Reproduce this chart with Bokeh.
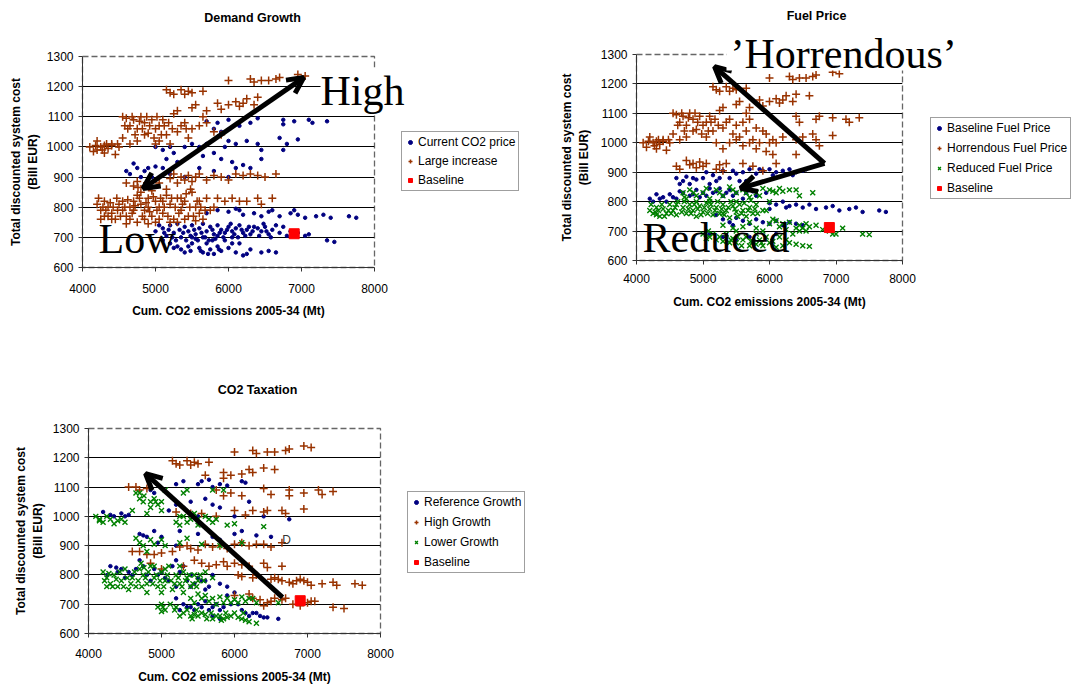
from bokeh.plotting import figure
from bokeh.models import (Range1d, FixedTicker, Legend, LegendItem, Label, Arrow, OpenHead, Spacer,
                          BoxAnnotation)
from bokeh.layouts import column, row
from bokeh.embed import file_html
from bokeh.resources import INLINE

# ---------------- data ----------------
x_ticks = [4000, 5000, 6000, 7000, 8000]
y_ticks = [600, 700, 800, 900, 1000, 1100, 1200, 1300]
baseline_pt = [(6900, 712)]

# Panel 1: Demand Growth
dg_current = [
    (5700,1085),(5800,1060),(5850,1080),(5900,1050),(6000,1090),(6150,1070),(6300,1080),(6400,1095),
    (6750,1090),(6900,1085),(7100,1090),(7150,1080),(7350,1085),(6750,1075),
    (5000,1000),(5100,990),(5150,960),(5200,1000),(5250,980),(5300,950),(5400,1000),(5500,1010),
    (5600,1000),(5650,970),(5700,1010),(5800,980),(5900,960),(6000,1020),(6050,950),(6100,1010),
    (6200,940),(6250,1020),(6400,1010),(6450,990),(6700,1030),(6800,1010),(6750,990),(6950,1025),
    (6450,960),(5950,1000),
    (4600,920),(4650,910),(4700,945),(4750,930),(4800,900),(4850,920),(4900,930),(4950,900),
    (5000,935),(5100,930),(5200,910),(5400,900),(5600,930),(5800,920),(6000,900),(6100,930),(6300,930),
    (5700,780),(5850,790),(6000,785),(6150,790),(6200,775),(6350,780),(6450,770),(6550,785),
    (6700,770),(6850,780),(6950,775),(7050,765),(7200,770),(7300,775),(7400,765),(7650,770),
    (7750,765),(6100,795),(6600,790),(6900,790),
    (5000,720),(5100,730),(5200,740),(5250,715),(5300,745),(5400,735),(5450,720),(5500,740),
    (5550,710),(5600,730),(5650,745),(5700,720),(5750,735),(5800,710),(5850,740),(5900,725),
    (5950,715),(6000,735),(6050,720),(6100,730),(6150,740),(6200,715),(6250,725),(6300,710),
    (6400,730),(6450,720),(6500,735),(6550,710),(6600,725),(6700,715),(6800,705),(6850,720),
    (6950,715),(7050,705),(7100,710),(7350,690),(7450,685),(5150,705),(5350,700),(5500,700),
    (5650,700),(5850,705),(6050,700),(6350,735),
    (5100,690),(5200,680),(5300,670),(5350,660),(5450,670),(5500,680),(5600,665),(5650,650),
    (5700,680),(5750,660),(5800,645),(5850,670),(5900,655),(6000,665),(6100,650),(6150,680),
    (6200,640),(6300,660),(6450,650),(6550,655),(6650,650),(5950,690),(5550,695),
    (5050,740),(5120,715),(5180,725),(5230,700),(5280,690),(5330,725),(5380,715),(5420,690),
    (5480,705),(5530,725),(5580,690),(5630,715),(5680,700),(5730,690),(5780,725),(5820,695),
    (5880,715),(5930,700),(5980,725),(6030,745),(6080,710),(6130,700),(6180,725),(6230,705),
    (6280,735),(6330,720),(6420,705),(6480,745),(6520,720),(6580,700),(6650,740),(6750,735),
    (5400,650),(5620,655),(5720,645),(5870,660),(6050,680),(6250,645),(5250,665),(5480,655),(5780,690),
]
dg_large = [
    (5150,1190),(5200,1180),(5250,1175),(5350,1190),(5400,1175),(5450,1185),(5500,1180),(5650,1185),
    (6000,1220),(6300,1225),(6350,1215),(6450,1220),(6550,1220),(6650,1225),(6700,1230),(6950,1240),(7050,1235),
    (5250,1110),(5500,1130),(5550,1140),(5650,1100),(5700,1120),(5850,1145),(5900,1125),(6000,1140),
    (6100,1150),(6150,1135),(6200,1145),(6250,1160),(6350,1140),(6400,1165),(5300,1120),
    (4100,1000),(4150,985),(4200,1020),(4250,1000),(4300,980),(4350,995),(4400,1005),(4450,975),
    (4500,1000),(4550,1100),(4600,1095),(4650,1070),(4700,1090),(4750,1060),(4800,1100),(4850,1080),
    (4900,1045),(4950,1090),(5000,1060),(5050,1070),(5100,1090),(5150,1040),(5200,1010),(5300,1050),
    (5400,1080),(5450,1030),(4650,1010),(4750,1020),(4850,1040),(5000,1010),(5050,1020),(4550,1030),
    (4300,1005),(4200,990),(5600,1070),(5700,1080),(5800,1050),(5900,1040),(5500,1060),(4400,1010),
    (4180,1005),(4270,990),(4330,1010),(4480,1010),(4620,1060),(4680,1100),(4720,1040),(4780,1085),
    (4880,1100),(4920,1070),(4980,1030),(5080,1040),(5120,1070),(5180,1080),(5230,1060),(5350,1070),
    (4580,1070),(4820,1060),(5020,1100),(5420,1060),
    (4600,880),(4700,870),(4750,885),(5200,895),(5300,880),(5350,900),(5400,890),(5450,905),
    (5500,885),(5550,900),(5600,910),(5700,890),(5800,905),(5900,900),(6000,890),(6100,910),
    (6200,905),(6300,910),(6400,905),(6500,900),(6650,910),(5250,910),(5050,880),
    (4200,810),(4250,790),(4300,820),(4350,800),(4400,780),(4450,760),(4500,810),(4550,790),
    (4600,770),(4650,800),(4700,820),(4750,840),(4800,810),(4850,790),(4900,830),(4950,770),
    (5000,820),(5050,800),(5100,780),(5150,840),(5200,810),(5250,760),(5300,830),(5350,790),
    (5400,820),(5450,770),(5500,850),(5550,800),(5600,780),(5650,760),(5700,830),(5800,800),
    (5850,830),(5950,820),(6050,830),(6150,820),(6250,820),(6400,830),(6450,810),(6600,830),
    (4250,760),(4400,760),(4650,760),(4750,750),(4850,760),(5050,760),(5200,750),(4700,790),
    (4900,800),(4800,850),(5100,820),(5350,830),(5600,820),(5750,790),(4300,770),(4550,820),
    (5000,750),(5400,760),
    (4220,830),(4280,800),(4320,790),(4380,815),(4420,800),(4470,830),(4520,770),(4580,800),
    (4620,825),(4680,780),(4720,805),(4780,830),(4820,770),(4870,815),(4920,785),(4970,835),
    (5020,790),(5070,830),(5120,800),(5170,770),(5220,830),(5270,800),(5320,780),(5370,810),
    (5420,845),(5470,800),(5520,770),(5570,820),(5620,800),(5680,790),(4760,865),(4840,870),
    (4950,855),(5150,860),(5480,860),(4350,770),(4480,790),(4600,745),(4900,745),(5300,750),(5550,755),
]

# Panel 2: Fuel Price
fp_base = [
    (4600,880),(4700,870),(4750,885),(4800,860),(4900,875),(5000,880),(5050,900),(5150,890),
    (5200,870),(5300,905),(5400,880),(5500,895),(5600,900),(5700,910),(5800,895),(5900,905),
    (6000,910),(6100,900),(6200,905),(6300,910),(6400,900),(6500,905),(5100,860),(5550,870),
    (4200,810),(4250,800),(4300,825),(4400,815),(4450,800),(4500,825),(4600,810),(4700,830),
    (4800,820),(4900,840),(5000,830),(5100,845),(5200,835),(5300,820),(5400,840),(5500,830),
    (5600,810),(5700,845),(5800,820),(5950,830),
    (4350,810),(4550,815),(4650,835),(4850,825),(4950,815),(5050,820),(5150,830),(5250,845),
    (5350,830),(5450,820),(5650,830),(5750,835),(4650,860),(4850,880),(5250,880),(5450,905),
    (5650,870),(5850,910),(6050,890),(6350,890),(6550,910),
    (6000,795),(6100,790),(6200,800),(6300,785),(6400,790),(6500,780),(6600,790),(6700,775),
    (6850,780),(6950,785),(7050,770),(7200,775),(7300,780),(7400,765),(7650,770),(7750,765),
    (6000,775),(6250,780),
    (5300,740),(5400,730),(5500,745),(5600,735),(5700,725),(5800,740),(5900,730),(6000,725),
    (6100,735),(6200,720),(6300,730),(5200,755),(5450,720),(6400,725),(6500,720),
    (5100,690),(5300,680),(5500,670),(5700,680),(6100,690),
]
fp_horr = [
    (5150,1190),(5200,1180),(5250,1175),(5350,1190),(5400,1175),(5450,1185),(5500,1180),(5650,1185),
    (6000,1220),(6300,1225),(6350,1215),(6450,1220),(6550,1220),(6650,1225),(6700,1230),(6950,1240),(7050,1235),
    (5250,1110),(5500,1130),(5550,1140),(5650,1100),(5700,1120),(5850,1145),(5900,1125),(6000,1140),
    (6100,1150),(6150,1135),(6200,1145),(6250,1160),(6350,1140),(6400,1165),(6600,1160),(5300,1120),
    (4100,1000),(4150,985),(4200,1020),(4250,1000),(4300,980),(4350,995),(4400,1005),(4450,975),
    (4500,1000),(4550,1100),(4600,1095),(4650,1070),(4700,1090),(4750,1060),(4800,1100),(4850,1080),
    (4900,1045),(4950,1090),(5000,1060),(5050,1070),(5100,1090),(5150,1040),(5300,1050),(5400,1080),
    (5450,1030),(4650,1010),(4750,1020),(4850,1040),(5050,1020),(4550,1030),(4300,1005),(4400,1010),
    (4180,1005),(4270,990),(4330,1010),(4480,1010),(4620,1060),(4680,1100),(4720,1040),(4780,1085),
    (4880,1100),(4920,1070),(4980,1030),(5080,1040),(5120,1070),(5180,1080),(5230,1060),(5350,1070),
    (5550,1020),(5650,1040),(5750,1010),(5850,1000),(5950,1030),(6050,1010),
    (6400,1090),(6450,1070),(6700,1080),(6750,1090),(6950,1085),(7150,1080),(7200,1070),(7350,1085),
    (6950,1025),(6650,1030),(6700,1010),(6750,990),(6400,1010),(6500,1020),(6200,1020),(6100,1000),
    (6000,1000),(6050,960),(5950,970),(6400,960),(5800,980),(5700,1000),(5600,990),(5500,1010),
    (5400,1000),(5300,980),(5200,1000),(5600,1070),(5700,1080),(5800,1050),(5900,1040),(5500,1060),
    (4600,920),(4650,910),(4750,940),(4800,925),(4850,930),(4900,915),(4950,935),(5000,920),
    (5050,930),(5200,910),(5250,925),(5300,905),(5350,930),(5600,930),(5750,920),(5900,905),(6100,930),
]
fp_red = [
    (4700,830),(4750,810),(4800,840),(4900,820),(5000,830),(5100,810),(5200,840),(5300,820),
    (5400,850),(5500,830),(5600,840),(5700,815),(5800,830),(5900,845),(6000,840),(6100,830),
    (6200,835),(6400,840),(6450,820),(6650,830),(6000,800),
    (4200,770),(4250,760),(4300,780),(4350,750),(4400,775),(4450,760),(4500,790),(4550,770),
    (4600,755),(4700,780),(4750,760),(4800,790),(4850,770),(4900,750),(4950,785),(5000,765),
    (5050,795),(5100,775),(5150,755),(5200,780),(5250,760),(5300,790),(5350,770),(5400,745),
    (5450,785),(5500,765),(5550,790),(5600,770),(5650,750),(5700,780),(5750,760),(5800,790),
    (5900,770),(5950,770),(4300,755),(4600,790),(4900,800),(5100,800),(5300,760),(5500,800),
    (4220,790),(4280,765),(4330,770),(4380,790),(4420,750),(4480,770),(4520,760),(4580,780),
    (4620,800),(4680,765),(4720,800),(4780,775),(4820,760),(4870,790),(4920,775),(4970,755),
    (5020,780),(5070,760),(5120,790),(5180,770),(5220,800),(5280,775),(5320,755),(5380,780),
    (5420,800),(5480,775),(5520,750),(5580,760),(5620,795),(5680,770),(5720,805),(5780,775),
    (5820,760),(4720,815),(4860,830),(5050,845),(5250,830),(5450,840),(5650,830),(5850,820),
    (6050,835),(6150,845),(6300,840),
    (5300,720),(5450,710),(5500,700),(5600,715),(5700,730),(5800,710),(5900,700),(6000,725),
    (6100,735),(6150,715),(6200,725),(6250,705),(6300,730),(6400,710),(6450,720),(6500,710),
    (6550,725),(6600,715),(6700,720),(6800,705),(6900,700),(6950,690),(7000,690),(7100,710),
    (7400,690),(7500,688),(6050,740),
    (5000,690),(5050,675),(5100,680),(5200,670),(5300,665),(5400,660),(5450,675),(5500,660),
    (5600,670),(5700,650),(5750,665),(5800,655),(5850,670),(5900,650),(6000,660),(6100,645),
    (6200,650),(6300,660),(6400,655),(6500,650),(6600,648),
    (5080,700),(5150,690),(5250,680),(5350,690),(5420,670),(5520,680),(5580,650),(5650,680),
    (5720,665),(5800,690),(5880,660),(5950,680),(6050,665),(6150,680),(6250,670),(6350,690),
    (6450,700),(6550,700),
]

# Panel 3: CO2 Taxation
ct_ref = [
    (5200,1110),(5300,1120),(5500,1110),(5550,1120),(5650,1125),(5700,1100),(5800,1110),(5900,1105),
    (6100,1120),(6150,1115),(4850,1090),(4900,1080),
    (4200,1015),(4300,1005),(4350,1000),(4450,1010),(4500,1000),(4550,1005),(5200,1040),(5300,1030),
    (5400,1050),(5500,1000),(5600,1060),(5700,1040),(5800,1030),(6000,1000),(6200,1050),(6400,1000),
    (6750,990),(5100,1020),
    (4700,940),(4750,935),(4800,930),(4900,950),(5000,930),(5250,950),(5500,940),(5700,930),
    (5800,920),(6000,940),(6100,950),(6300,935),(6500,930),(4950,910),(5200,900),
    (4300,830),(4400,810),(4450,820),(4700,850),(4750,830),(4800,800),(4900,820),(5000,810),
    (5200,850),(5300,830),(5400,800),(5500,790),(5600,780),(5700,800),(5800,770),(5900,760),
    (5100,780),(5200,760),(5400,760),(5600,750),(4600,800),(4500,790),
    (4260,800),(4380,825),(4550,810),(4650,820),(4850,780),(4950,800),(5050,790),(5150,830),
    (5250,810),(5350,780),(5450,770),(5550,780),(5650,760),
    (5200,720),(5300,700),(5400,690),(5500,700),(5600,710),(5700,690),(5800,680),(5900,730),
    (6000,740),(6050,700),(6100,680),(6150,670),(6200,660),(6300,670),(6400,655),(6450,655),
    (6600,650),(5800,650),(5700,660),
    (5250,680),(5350,690),(5450,680),(5550,690),(5650,680),(5750,700),(5850,690),(5950,700),
    (6250,670),(6350,660),
]
ct_high = [
    (5150,1190),(5200,1180),(5250,1175),(5350,1190),(5400,1175),(5450,1185),(5500,1180),(5650,1185),
    (6000,1220),(6250,1225),(6300,1215),(6450,1220),(6550,1220),(6700,1225),(6750,1230),(6950,1240),(7050,1235),
    (5600,1140),(5850,1150),(5950,1140),(6100,1145),(6200,1160),(6250,1150),(6400,1165),(6550,1160),(5850,1130),
    (4550,1100),(4650,1100),(4700,1090),(4800,1095),(5750,1090),(5850,1070),(5950,1080),(6100,1070),
    (6400,1095),(6500,1075),(6750,1090),(6950,1080),(7150,1090),(7200,1075),(7350,1085),(6750,1070),
    (5200,1015),(5400,1010),(5550,1010),(5750,1000),(6000,1020),(6150,1005),(6250,1020),(6400,1015),
    (6450,1020),(6650,1020),(6700,1010),(6950,1025),
    (4600,880),(4700,880),(4800,870),(4900,870),(5000,875),(5150,880),(5250,895),(5350,900),
    (5400,890),(5500,885),(5600,905),(5700,895),(5800,900),(5900,890),(6000,905),(6100,910),
    (6200,900),(6300,905),(6400,905),(6500,895),(6650,910),
    (4850,840),(5000,820),(5300,830),(5450,850),(5550,840),(5650,830),(5750,835),(5850,845),
    (5900,830),(6000,840),(6100,835),(6200,830),(6400,840),(6450,825),(6650,830),(6050,800),
    (6300,800),(6500,785),(6550,790),(6600,785),(6650,780),(6750,775),(6800,770),(6850,780),
    (6900,785),(6950,780),(7000,775),(7050,765),(7200,770),(7350,775),(7400,765),(7650,770),
    (7750,765),(6100,795),(6250,790),
    (6000,730),(6200,735),(6350,715),(6400,695),(6500,710),(6550,720),(6650,715),(6700,720),
    (6800,700),(6900,695),(7000,705),(7050,710),(7100,710),(7350,690),(7500,685),(6250,720),(6450,705),
]
ct_low = [
    (4650,1080),(4700,1060),(4750,1050),(4900,1060),(4950,1040),(5050,1090),(5350,1090),(5300,1080),
    (5700,1090),(5850,1090),(4600,1020),(4800,1010),(5000,1020),(4850,1030),
    (4700,1080),(4760,1070),(4850,1050),(4920,1050),(5000,1050),
    (4100,1000),(4150,990),(4200,980),(4250,1000),(4300,990),(4350,975),(4450,990),(4500,980),
    (5200,980),(5250,970),(5300,1000),(5400,990),(5500,970),(5600,1000),(5700,980),(5900,970),
    (6000,975),(6400,965),(5450,1010),(5750,990),(5250,1000),(5350,980),(5500,990),(5650,990),
    (4150,985),(4400,985),
    (4650,925),(4700,910),(4750,900),(4850,920),(4900,905),(5000,920),(5050,900),(5250,910),
    (5350,925),(5550,905),(5800,900),(6100,910),(4800,880),
    (4200,810),(4250,790),(4300,770),(4350,800),(4400,760),(4450,780),(4500,820),(4550,750),
    (4600,790),(4700,820),(4750,800),(4800,770),(4850,830),(4900,790),(4950,760),(5000,810),
    (5050,780),(5100,830),(5150,750),(5200,800),(5250,770),(5300,810),(5350,790),(5400,760),
    (5450,800),(5500,780),(5600,810),(5700,790),(4250,760),(4650,760),(4800,740),(5000,740),(5300,740),
    (4220,780),(4280,805),(4330,760),(4380,785),(4430,810),(4480,760),(4530,790),(4580,770),
    (4630,810),(4680,780),(4730,760),(4780,790),(4820,810),(4880,770),(4930,800),(4980,780),
    (5030,760),(5080,800),(5130,780),(5180,770),(5230,790),(5280,760),(5330,780),(5380,800),
    (5430,770),(5480,760),(5530,800),(5580,780),(4720,840),(4760,825),(4900,830),(5050,820),(5250,830),
    (5000,700),(5400,720),(5500,735),(5600,730),(5700,720),(5800,725),(5900,720),(6000,715),
    (6100,725),(6150,710),(6200,720),(6300,705),(6600,705),(5750,700),(5950,705),
    (5550,720),(5650,710),(5850,705),(6050,705),(6250,720),(5450,705),
    (4950,690),(5000,675),(5050,680),(5200,690),(5300,670),(5400,660),(5450,665),(5500,660),
    (5600,665),(5700,650),(5800,660),(5850,650),(5900,655),(6000,670),(6100,650),(6150,645),
    (6200,640),(6300,635),
    (5020,690),(5120,700),(5180,680),(5250,660),(5350,680),(5420,650),(5480,680),(5550,670),
    (5620,650),(5680,670),(5750,660),(5820,645),(5880,670),(5950,660),(6050,655),(6120,670),
]

BLUE = "#000080"
BROWN = "#993300"
GREEN = "#008000"
RED = "#FF0000"
SANS = "Liberation Sans"
SERIF = "Liberation Serif"


def xs(pts):
    return [p[0] for p in pts]


def ys(pts):
    return [p[1] for p in pts]


def make_fig(width, height, left, right, top, bottom, top_dashed=True,
             xl_standoff=8, xa_standoff=8, ya_standoff=8):
    p = figure(width=width, height=height, x_range=Range1d(4000, 8000), y_range=Range1d(600, 1300),
               output_backend="svg", toolbar_location=None, title=None,
               min_border_left=left, min_border_right=right,
               min_border_top=top, min_border_bottom=bottom)
    p.xaxis.ticker = FixedTicker(ticks=x_ticks)
    p.yaxis.ticker = FixedTicker(ticks=y_ticks)
    for ax in (p.xaxis[0], p.yaxis[0]):
        ax.major_label_text_font = SANS
        ax.major_label_text_font_size = "12px"
        ax.major_label_text_color = "black"
        ax.major_tick_out = 4
        ax.major_tick_in = 0
        ax.minor_tick_out = 0
        ax.minor_tick_in = 0
        ax.axis_line_color = "#333333"
        ax.major_tick_line_color = "#333333"
        ax.axis_label_text_font = SANS
        ax.axis_label_text_font_size = "12px"
        ax.axis_label_text_font_style = "bold"
        ax.axis_label_text_color = "black"
    p.xaxis.axis_label = "Cum. CO2 emissions 2005-34 (Mt)"
    p.yaxis.axis_label = "Total discounted system cost\n(Bill EUR)"
    p.yaxis.major_label_standoff = 5
    p.yaxis.axis_label_standoff = ya_standoff
    p.xaxis.major_label_standoff = xl_standoff
    p.xaxis.axis_label_standoff = xa_standoff
    p.xgrid.visible = False
    gt = y_ticks[1:-1] if top_dashed else y_ticks[1:]
    p.ygrid.ticker = FixedTicker(ticks=gt)
    p.ygrid.grid_line_color = "black"
    p.ygrid.grid_line_width = 1
    p.outline_line_color = "#666666"
    p.outline_line_dash = "6 3"
    p.outline_line_width = 1.3
    p.background_fill_color = "white"
    p.border_fill_color = "white"
    return p


STYLE = {
    "dot": dict(marker="circle", size=3.5),
    "plus": dict(marker="cross", size=8, line_width=1.5),
    "x": dict(marker="x", size=7, line_width=1.4),
    "sq": dict(marker="square", size=10),
}


def style_kw(kind, color):
    kw = dict(STYLE[kind])
    if kind in ("dot", "sq"):
        kw.update(fill_color=color, line_color=color)
    else:
        kw.update(line_color=color)
    return kw


def add_series(p, pts, kind, color):
    return p.scatter(xs(pts), ys(pts), **style_kw(kind, color))


def arrow(p, x0, y0, x1, y1, both=False):
    a = Arrow(x_start=x0, y_start=y0, x_end=x1, y_end=y1, line_width=5, line_color="black",
              end=OpenHead(size=16, line_width=5, line_color="black"),
              start=OpenHead(size=16, line_width=5, line_color="black") if both else None)
    p.add_layout(a)


# ---------------- Panel 1 ----------------
p1 = make_fig(552, 340, 82, 178, 56, 73, top_dashed=True, xl_standoff=12, xa_standoff=8, ya_standoff=4)
add_series(p1, dg_current, "dot", BLUE)
add_series(p1, dg_large, "plus", BROWN)
add_series(p1, baseline_pt, "sq", RED)
arrow(p1, 4830, 862, 7030, 1230, both=True)

# ---------------- Panel 2 (placed at the top right) ----------------
p2 = make_fig(527, 340, 84, 177, 54, 80, top_dashed=False, xl_standoff=9, xa_standoff=9, ya_standoff=7)
add_series(p2, fp_base, "dot", BLUE)
add_series(p2, fp_horr, "plus", BROWN)
add_series(p2, fp_red, "x", GREEN)
add_series(p2, baseline_pt, "sq", RED)
arrow(p2, 6827, 930, 5173, 1259)
arrow(p2, 6827, 930, 5564, 845)
p2_box = row(p2, spacing=0)
p2_box.styles = {"position": "absolute", "left": "552px", "top": "0px"}

# ---------------- Panel 3 ----------------
p3 = make_fig(552, 346, 88, 172, 88, 53, top_dashed=True, xl_standoff=11, xa_standoff=9, ya_standoff=5)
add_series(p3, ct_ref, "dot", BLUE)
add_series(p3, ct_high, "plus", BROWN)
add_series(p3, ct_low, "x", GREEN)
add_series(p3, baseline_pt, "sq", RED)
arrow(p3, 6658, 723, 4781, 1146)

# ---------------- overlay for titles, notes and legends (page pixels) ----------------
ov = figure(width=1079, height=686, x_range=Range1d(0, 1079), y_range=Range1d(686, 0),
            x_axis_type=None, y_axis_type=None, output_backend="svg", toolbar_location=None,
            min_border=0, min_border_left=0, min_border_right=0, min_border_top=0, min_border_bottom=0)
ov.grid.visible = False
ov.outline_line_color = None
ov.background_fill_alpha = 0
ov.border_fill_alpha = 0
ov.styles = {"position": "absolute", "left": "0px", "top": "0px", "pointer-events": "none", "z-index": "5"}

OFF = [-100]  # legend key glyphs sit outside the overlay's visible range


def legend_key(kind, color):
    return ov.scatter(OFF, OFF, **style_kw(kind, color))


def add_legend(items, left, bottom, spacing):
    leg = Legend(items=[LegendItem(label=l, renderers=[legend_key(k, c)]) for l, k, c in items],
                 location=(left, 686 - bottom), orientation="vertical")
    leg.label_text_font = SANS
    leg.label_text_font_size = "12px"
    leg.label_text_color = "black"
    leg.glyph_width = 10
    leg.glyph_height = 14
    leg.label_height = 14
    leg.label_standoff = 3
    leg.spacing = spacing
    leg.padding = 3
    leg.margin = 0
    leg.border_line_color = "#404040"
    leg.border_line_width = 1
    leg.background_fill_color = "white"
    leg.background_fill_alpha = 1
    ov.add_layout(leg)


add_legend([("Current CO2 price", "dot", BLUE), ("Large increase", "plus", BROWN),
            ("Baseline", "sq", RED)], 401, 191, 5)
add_legend([("Baseline Fuel Price", "dot", BLUE), ("Horrendous Fuel Price", "plus", BROWN),
            ("Reduced Fuel Price", "x", GREEN), ("Baseline", "sq", RED)], 930, 199, 6)
add_legend([("Reference Growth", "dot", BLUE), ("High Growth", "plus", BROWN),
            ("Lower Growth", "x", GREEN), ("Baseline", "sq", RED)], 407, 573, 6)

titles = [("Demand Growth", 252, 17), ("Fuel Price", 816, 15), ("CO2 Taxation", 257, 389)]
for t, tx, ty in titles:
    ov.add_layout(Label(x=tx, y=ty, text=t, text_font=SANS, text_font_size="12.5px",
                        text_font_style="bold", text_color="black",
                        text_align="center", text_baseline="middle"))

# white patch behind 'Horrendous' (covers only the text band, not the points below it)
ov.add_layout(BoxAnnotation(left=726, right=966, top=28, bottom=70, fill_color="white",
                            fill_alpha=1, line_color=None, level="annotation"))

BASE_FIX = 13
big = [("High", 320, 103, True), ("\u2019Horrendous\u2019", 730, 66, False),
       ("Low", 98, 251, False), ("Reduced", 642, 250, False)]
for t, tx, ty, bg in big:
    lab = Label(x=tx, y=ty - BASE_FIX, text=t, text_font=SERIF, text_font_size="42px",
                text_color="black", text_align="left", text_baseline="alphabetic")
    if bg:
        lab.background_fill_color = "white"
        lab.background_fill_alpha = 1
    ov.add_layout(lab)
ov.add_layout(Label(x=286, y=539, text="D", text_font=SANS, text_font_size="12px",
                    text_color="#333333", text_align="center", text_baseline="middle"))

layout = column(row(p1, Spacer(width=527, height=340), spacing=0),
                row(p3, Spacer(width=527, height=346), spacing=0),
                p2_box, ov, spacing=0)

open("out.html", "w").write(file_html(layout, INLINE))
